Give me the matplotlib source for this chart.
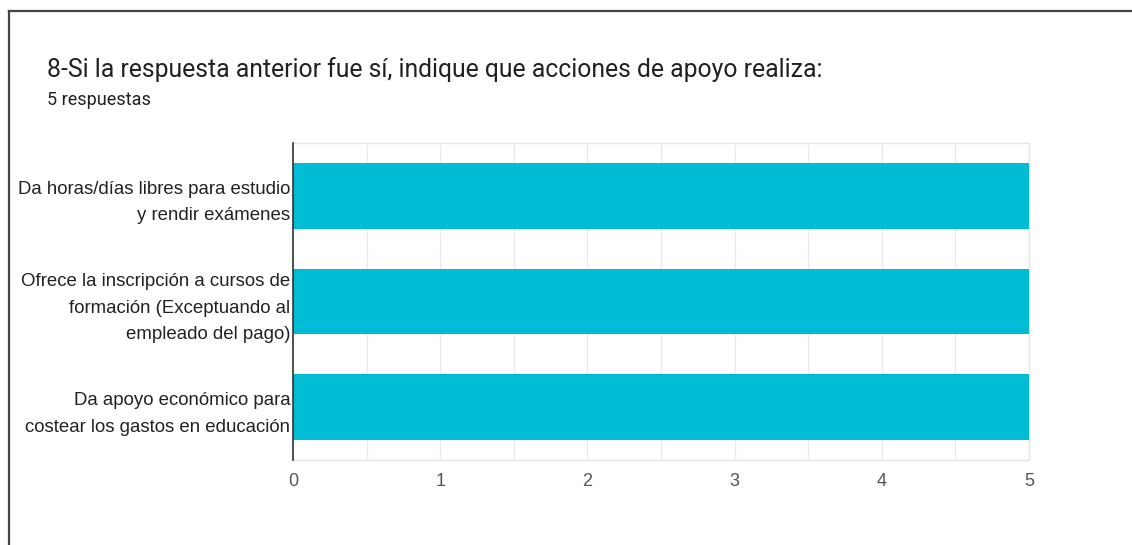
import matplotlib
matplotlib.use("Agg")
import matplotlib.pyplot as plt
from matplotlib.lines import Line2D

categories = [
    "Da horas/días libres para estudio\ny rendir exámenes",
    "Ofrece la inscripción a cursos de\nformación (Exceptuando al\nempleado del pago)",
    "Da apoyo económico para\ncostear los gastos en educación",
]
values = [5, 5, 5]
xticks = [0, 1, 2, 3, 4, 5]
title = "8-Si la respuesta anterior fue sí, indique que acciones de apoyo realiza:"
subtitle = "5 respuestas"

W, H = 1132, 545
fig = plt.figure(figsize=(W / 100, H / 100), dpi=100)
fig.patch.set_facecolor("white")

# axes placement in pixels
left, right, top, bottom = 293, 1029, 143, 460
ax = fig.add_axes([left / W, 1 - bottom / H, (right - left) / W, (bottom - top) / H])

ypos = list(range(len(categories)))
ax.barh(ypos, values, height=0.62, color="#00BCD4", zorder=3)
ax.set_ylim(len(categories) - 0.5, -0.5)
ax.set_xlim(0, 5)

ax.set_xticks(xticks)
ax.set_xticklabels([str(t) for t in xticks], fontsize=13, color="#555555",
                   family=["Liberation Sans", "DejaVu Sans"])
ax.set_xticks([t + 0.5 for t in xticks[:-1]], minor=True)
ax.grid(True, axis="x", which="both", color="#ebebeb", linewidth=1, zorder=0)
ax.tick_params(axis="x", which="both", length=0, pad=9)
ax.set_yticks(ypos)
ax.set_yticklabels(categories, fontsize=13.4, color="#222222", linespacing=1.72,
                   family=["Liberation Sans", "DejaVu Sans"])
ax.tick_params(axis="y", length=0, pad=2)

for s in ["top", "right", "bottom"]:
    ax.spines[s].set_color("#e6e6e6")
    ax.spines[s].set_linewidth(1)
ax.spines["left"].set_color("#333333")
ax.spines["left"].set_linewidth(1.2)
ax.spines["left"].set_zorder(4)

fig.text(47 / W, 1 - 70 / H, title, fontsize=17.8, color="#202124",
         family=["Roboto", "DejaVu Sans"], va="center", ha="left")
fig.text(47 / W, 1 - 100 / H, subtitle, fontsize=13, color="#202124",
         family=["Roboto", "DejaVu Sans"], va="center", ha="left")

# screenshot frame (left and top edges)
fig.add_artist(Line2D([8.5 / W, 8.5 / W], [0, 1 - 10.5 / H], transform=fig.transFigure,
                      color="#444444", linewidth=1.6))
fig.add_artist(Line2D([8.5 / W, 1], [1 - 10.5 / H, 1 - 10.5 / H], transform=fig.transFigure,
                      color="#444444", linewidth=1.6))

fig.savefig("out.png", dpi=100, facecolor="white")
